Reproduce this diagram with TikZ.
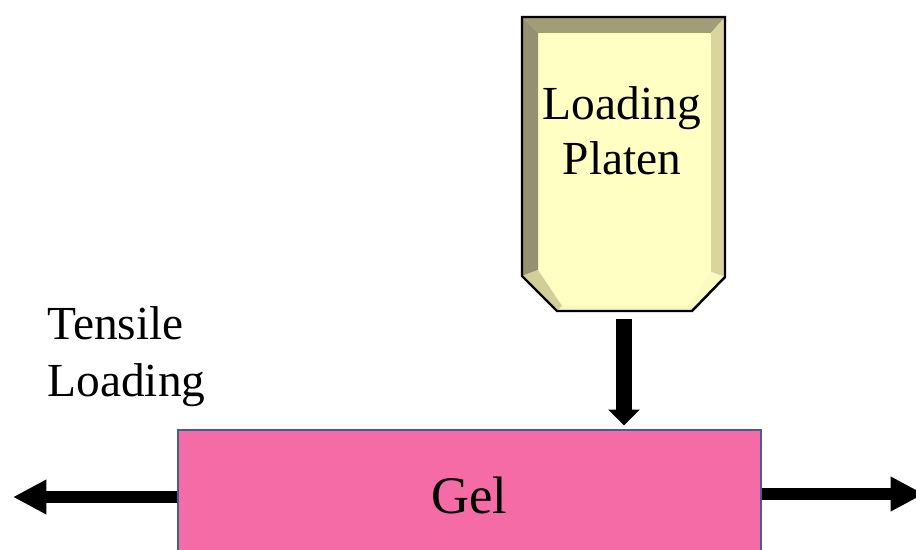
\documentclass[tikz,border=0pt]{standalone}
\usepackage{fontspec}
\setmainfont{Liberation Serif}
\usetikzlibrary{arrows.meta, positioning}

\definecolor{platenface}{HTML}{FFFFC4}
\definecolor{bevtop}{HTML}{A19D76}
\definecolor{bevleft}{HTML}{959070}
\definecolor{bevright}{HTML}{D9D59C}
\definecolor{bevlow}{HTML}{D2CE99}
\definecolor{gelpink}{HTML}{F56BA6}
\definecolor{gelblue}{HTML}{3F5E9E}

\tikzset{
	bigtext/.style={font=\fontsize{27}{31}\selectfont, inner sep=0pt},
	sidetext/.style={font=\fontsize{27}{31}\selectfont, inner sep=0pt, anchor=base west},
	pull/.style={line width=6.5pt, -{Triangle[width=18.5pt, length=19pt]}},
	push/.style={line width=9pt, -{Triangle[width=17.5pt, length=9pt]}}
}

\begin{document}
\begin{tikzpicture}[x=0.02cm, y=-0.02cm]
	\useasboundingbox (0,0) rectangle (916,550);

	% platen: bevelled block
	\fill[platenface] (538,33) -- (711,33) -- (711,272) -- (689,306) -- (562,306) -- (538,270) -- cycle;
	\fill[bevtop] (522,17) -- (725,17) -- (711,33) -- (538,33) -- cycle;
	\fill[bevleft] (522,17) -- (538,33) -- (538,270) -- (522,276) -- cycle;
	\fill[bevright] (725,17) -- (725,277) -- (711,272) -- (711,33) -- cycle;
	\fill[bevlow] (522,276) -- (538,270) -- (562,306) -- (557,311) -- cycle;
	\fill[platenface!85!bevlow] (557,311) -- (562,306) -- (689,306) -- (692,311) -- cycle;
	\fill[platenface!92!bevlow] (692,311) -- (689,306) -- (711,272) -- (725,277) -- cycle;
	\draw[line width=1.4pt, line join=miter] (522,17) -- (725,17) -- (725,277) -- (692,311) -- (557,311) -- (522,276) -- cycle;

	\node[bigtext, anchor=base] (ld) at (622,120) {Loading};
	\node[bigtext, anchor=base] (pl) at (622,175) {Platen};

	% gel sample
	\node[draw=gelblue, line width=1.2pt, fill=gelpink, minimum width=11.66cm, minimum height=2.6cm,
		font=\fontsize{30}{34}\selectfont] (gel) at (469.5,495) {Gel};

	\node[sidetext] (tens) at (47,340) {Tensile};
	\node[sidetext] (load) at (47,397) {Loading};

	\coordinate (platenbase) at (624,319);
	\coordinate (lefttip) at (13,497);
	\coordinate (righttip) at (924,494);

	\draw[push, shorten >=2pt] (platenbase) -- (platenbase |- gel.north);
	\draw[pull] (gel.west |- lefttip) -- (lefttip);
	\draw[pull] (gel.east |- righttip) -- (righttip);
\end{tikzpicture}
\end{document}
